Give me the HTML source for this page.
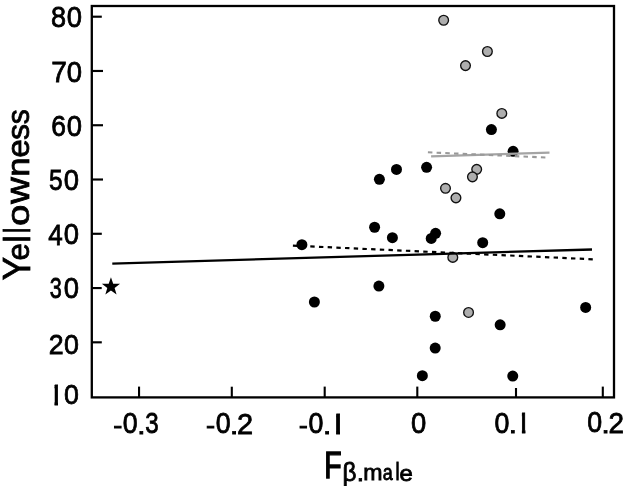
<!DOCTYPE html>
<html><head><meta charset="utf-8"><style>
html,body{margin:0;padding:0;background:#fff;}
svg{display:block;will-change:transform;}
svg text{font-family:"Liberation Sans",sans-serif;font-kerning:none;fill:#000;stroke:#000;stroke-width:0.8px;}
</style></head><body>
<svg width="633" height="486" viewBox="0 0 633 486">
<defs><clipPath id="c0"><rect x="54.50" y="383.10" width="3.50" height="22.90"/><rect x="64.10" y="383.10" width="14.60" height="22.90"/></clipPath><clipPath id="c1"><rect x="299.20" y="424.50" width="8.45" height="4.60"/><rect x="308.70" y="411.70" width="14.60" height="23.30"/><rect x="324.70" y="429.70" width="4.60" height="5.30"/><rect x="336.10" y="411.70" width="3.90" height="23.30"/></clipPath><clipPath id="c2"><rect x="494.55" y="410.90" width="14.60" height="23.30"/><rect x="510.55" y="428.90" width="4.60" height="5.30"/><rect x="521.90" y="410.90" width="3.50" height="23.30"/></clipPath></defs>
<rect x="91.8" y="6.0" width="522.20" height="391.40" fill="none" stroke="#000" stroke-width="2.3"/>
<line x1="91.8" y1="16.70" x2="101.8" y2="16.70" stroke="#000" stroke-width="2.15"/>
<line x1="91.8" y1="70.97" x2="103.0" y2="70.97" stroke="#000" stroke-width="2.15"/>
<line x1="91.8" y1="125.24" x2="103.0" y2="125.24" stroke="#000" stroke-width="2.15"/>
<line x1="91.8" y1="179.51" x2="103.0" y2="179.51" stroke="#000" stroke-width="2.15"/>
<line x1="91.8" y1="233.78" x2="101.8" y2="233.78" stroke="#000" stroke-width="2.15"/>
<line x1="91.8" y1="288.05" x2="101.7" y2="288.05" stroke="#000" stroke-width="2.15"/>
<line x1="91.8" y1="342.32" x2="101.8" y2="342.32" stroke="#000" stroke-width="2.15"/>
<line x1="139.05" y1="397.4" x2="139.05" y2="386.6" stroke="#000" stroke-width="2.1"/>
<line x1="231.80" y1="397.4" x2="231.80" y2="386.7" stroke="#000" stroke-width="2.1"/>
<line x1="324.70" y1="397.4" x2="324.70" y2="386.6" stroke="#000" stroke-width="2.1"/>
<line x1="417.30" y1="397.4" x2="417.30" y2="386.6" stroke="#000" stroke-width="2.1"/>
<line x1="516.00" y1="397.4" x2="516.00" y2="388.0" stroke="#000" stroke-width="2.1"/>
<line x1="602.80" y1="397.4" x2="602.80" y2="386.6" stroke="#000" stroke-width="2.1"/>
<circle cx="301.9" cy="244.65" r="5.5" fill="#000"/>
<circle cx="314.4" cy="302.0" r="5.5" fill="#000"/>
<circle cx="374.6" cy="227.25" r="5.5" fill="#000"/>
<circle cx="379.4" cy="179.3" r="5.5" fill="#000"/>
<circle cx="378.9" cy="286.05" r="5.5" fill="#000"/>
<circle cx="392.4" cy="237.7" r="5.5" fill="#000"/>
<circle cx="396.5" cy="169.45" r="5.5" fill="#000"/>
<circle cx="426.6" cy="167.3" r="5.5" fill="#000"/>
<circle cx="431.25" cy="238.4" r="5.5" fill="#000"/>
<circle cx="435.6" cy="233.3" r="5.5" fill="#000"/>
<circle cx="435.25" cy="316.25" r="5.5" fill="#000"/>
<circle cx="435.2" cy="348.1" r="5.5" fill="#000"/>
<circle cx="422.35" cy="375.65" r="5.5" fill="#000"/>
<circle cx="482.7" cy="242.7" r="5.5" fill="#000"/>
<circle cx="491.4" cy="129.6" r="5.5" fill="#000"/>
<circle cx="499.8" cy="213.8" r="5.5" fill="#000"/>
<circle cx="500.15" cy="324.85" r="5.5" fill="#000"/>
<circle cx="512.75" cy="376.05" r="5.5" fill="#000"/>
<circle cx="513.1" cy="151.3" r="5.5" fill="#000"/>
<circle cx="585.65" cy="307.4" r="5.5" fill="#000"/>
<circle cx="443.65" cy="20.25" r="4.85" fill="#aeaeae" stroke="#111" stroke-width="1.35"/>
<circle cx="487.4" cy="51.5" r="4.85" fill="#aeaeae" stroke="#111" stroke-width="1.35"/>
<circle cx="465.5" cy="65.6" r="4.85" fill="#aeaeae" stroke="#111" stroke-width="1.35"/>
<circle cx="501.8" cy="113.4" r="4.85" fill="#aeaeae" stroke="#111" stroke-width="1.35"/>
<circle cx="476.7" cy="169.35" r="4.85" fill="#aeaeae" stroke="#111" stroke-width="1.35"/>
<circle cx="472.45" cy="176.85" r="4.85" fill="#aeaeae" stroke="#111" stroke-width="1.35"/>
<circle cx="445.5" cy="188.3" r="4.85" fill="#aeaeae" stroke="#111" stroke-width="1.35"/>
<circle cx="455.95" cy="197.85" r="4.85" fill="#aeaeae" stroke="#111" stroke-width="1.35"/>
<circle cx="452.8" cy="257.4" r="4.85" fill="#aeaeae" stroke="#111" stroke-width="1.35"/>
<circle cx="468.55" cy="312.45" r="4.85" fill="#aeaeae" stroke="#111" stroke-width="1.35"/>
<line x1="112.3" y1="263.6" x2="592.0" y2="249.5" stroke="#000" stroke-width="2.3"/>
<line x1="292.9" y1="245.6" x2="592.8" y2="259.3" stroke="#000" stroke-width="2.2" stroke-dasharray="4.4 4.3"/>
<line x1="431.1" y1="156.3" x2="549.5" y2="152.6" stroke="#a4a4a4" stroke-width="2.3"/>
<line x1="427.9" y1="152.3" x2="545.9" y2="157.5" stroke="#999999" stroke-width="2.1" stroke-dasharray="4.5 4.2"/>
<polygon points="110.95,277.20 113.21,283.64 120.03,283.80 114.61,287.94 116.56,294.48 110.95,290.60 105.34,294.48 107.29,287.94 101.87,283.80 108.69,283.64" fill="#000"/>
<text><tspan x="51.02" y="27.42" font-size="28.81" textLength="15.05" lengthAdjust="spacingAndGlyphs">8</tspan><tspan x="66.73" y="27.42" font-size="28.81" textLength="15.24" lengthAdjust="spacingAndGlyphs">0</tspan></text>
<text><tspan x="51.26" y="81.90" font-size="29.80" textLength="15.60" lengthAdjust="spacingAndGlyphs">7</tspan><tspan x="66.73" y="81.62" font-size="28.95" textLength="15.24" lengthAdjust="spacingAndGlyphs">0</tspan></text>
<text><tspan x="51.16" y="135.62" font-size="28.67" textLength="14.70" lengthAdjust="spacingAndGlyphs">6</tspan><tspan x="66.73" y="135.62" font-size="28.67" textLength="15.24" lengthAdjust="spacingAndGlyphs">0</tspan></text>
<text><tspan x="49.12" y="190.32" font-size="29.09" textLength="13.61" lengthAdjust="spacingAndGlyphs">5</tspan><tspan x="63.63" y="190.32" font-size="28.67" textLength="15.24" lengthAdjust="spacingAndGlyphs">0</tspan></text>
<text><tspan x="48.30" y="244.60" font-size="29.51" textLength="14.46" lengthAdjust="spacingAndGlyphs">4</tspan><tspan x="63.63" y="244.32" font-size="28.67" textLength="15.24" lengthAdjust="spacingAndGlyphs">0</tspan></text>
<text><tspan x="49.63" y="298.32" font-size="28.81" textLength="12.02" lengthAdjust="spacingAndGlyphs">3</tspan><tspan x="63.63" y="298.32" font-size="28.81" textLength="15.24" lengthAdjust="spacingAndGlyphs">0</tspan></text>
<text><tspan x="48.75" y="354.40" font-size="28.50" textLength="14.89" lengthAdjust="spacingAndGlyphs">2</tspan><tspan x="63.95" y="354.13" font-size="28.11" textLength="14.89" lengthAdjust="spacingAndGlyphs">0</tspan></text>
<text clip-path="url(#c0)"><tspan x="47.22" y="404.60" font-size="29.22" textLength="16.99" lengthAdjust="spacingAndGlyphs">1</tspan><tspan x="63.95" y="404.32" font-size="28.39" textLength="14.89" lengthAdjust="spacingAndGlyphs">0</tspan></text>
<text><tspan x="113.19" y="432.92" font-size="23.04" textLength="9.07" lengthAdjust="spacingAndGlyphs">-</tspan><tspan x="122.85" y="433.32" font-size="28.95" textLength="14.89" lengthAdjust="spacingAndGlyphs">0</tspan><tspan x="137.21" y="433.60" font-size="23.38" textLength="8.17" lengthAdjust="spacingAndGlyphs">.</tspan><tspan x="145.23" y="433.32" font-size="28.95" textLength="13.43" lengthAdjust="spacingAndGlyphs">3</tspan></text>
<text><tspan x="205.99" y="432.92" font-size="23.04" textLength="9.07" lengthAdjust="spacingAndGlyphs">-</tspan><tspan x="215.65" y="433.32" font-size="28.95" textLength="14.89" lengthAdjust="spacingAndGlyphs">0</tspan><tspan x="230.01" y="433.60" font-size="23.38" textLength="8.17" lengthAdjust="spacingAndGlyphs">.</tspan><tspan x="236.94" y="433.60" font-size="29.36" textLength="16.11" lengthAdjust="spacingAndGlyphs">2</tspan></text>
<text clip-path="url(#c1)"><tspan x="298.89" y="432.92" font-size="23.04" textLength="9.07" lengthAdjust="spacingAndGlyphs">-</tspan><tspan x="308.55" y="433.32" font-size="28.95" textLength="14.89" lengthAdjust="spacingAndGlyphs">0</tspan><tspan x="322.91" y="433.60" font-size="23.38" textLength="8.17" lengthAdjust="spacingAndGlyphs">.</tspan><tspan x="327.68" y="433.60" font-size="29.80" textLength="19.51" lengthAdjust="spacingAndGlyphs">1</tspan></text>
<text><tspan x="411.03" y="433.02" font-size="28.81" textLength="15.24" lengthAdjust="spacingAndGlyphs">0</tspan></text>
<text clip-path="url(#c2)"><tspan x="494.40" y="432.52" font-size="28.95" textLength="14.89" lengthAdjust="spacingAndGlyphs">0</tspan><tspan x="508.76" y="432.80" font-size="23.38" textLength="8.17" lengthAdjust="spacingAndGlyphs">.</tspan><tspan x="514.62" y="432.80" font-size="29.80" textLength="16.99" lengthAdjust="spacingAndGlyphs">1</tspan></text>
<text><tspan x="587.15" y="432.32" font-size="28.95" textLength="14.89" lengthAdjust="spacingAndGlyphs">0</tspan><tspan x="601.51" y="432.60" font-size="23.38" textLength="8.17" lengthAdjust="spacingAndGlyphs">.</tspan><tspan x="608.50" y="432.60" font-size="29.36" textLength="15.50" lengthAdjust="spacingAndGlyphs">2</tspan></text>
<text transform="matrix(0 -1 1 0 0 300.0)"><tspan x="19.83" y="29.50" font-size="38.52" textLength="23.44" lengthAdjust="spacingAndGlyphs">Y</tspan><tspan x="39.38" y="29.19" font-size="32.13" textLength="17.30" lengthAdjust="spacingAndGlyphs">e</tspan><tspan x="57.55" y="29.50" font-size="36.57" textLength="7.08" lengthAdjust="spacingAndGlyphs">l</tspan><tspan x="66.84" y="29.50" font-size="36.57" textLength="5.81" lengthAdjust="spacingAndGlyphs">l</tspan><tspan x="73.98" y="29.19" font-size="32.13" textLength="21.44" lengthAdjust="spacingAndGlyphs">o</tspan><tspan x="96.25" y="29.30" font-size="32.75" textLength="26.46" lengthAdjust="spacingAndGlyphs">w</tspan><tspan x="123.29" y="29.30" font-size="32.15" textLength="19.38" lengthAdjust="spacingAndGlyphs">n</tspan><tspan x="142.29" y="29.19" font-size="32.13" textLength="18.49" lengthAdjust="spacingAndGlyphs">e</tspan><tspan x="160.11" y="29.19" font-size="32.21" textLength="16.05" lengthAdjust="spacingAndGlyphs">s</tspan><tspan x="175.76" y="29.19" font-size="32.21" textLength="15.02" lengthAdjust="spacingAndGlyphs">s</tspan></text>
<text><tspan x="324.22" y="477.75" font-size="36.92" textLength="17.37" lengthAdjust="spacingAndGlyphs" stroke-width="1.3">F</tspan><tspan x="342.62" y="481.03" font-size="24.89" textLength="13.94" lengthAdjust="spacingAndGlyphs">β</tspan><tspan x="356.70" y="480.70" font-size="24.31" textLength="7.29" lengthAdjust="spacingAndGlyphs">.</tspan><tspan x="363.16" y="480.40" font-size="21.84" textLength="19.26" lengthAdjust="spacingAndGlyphs">m</tspan><tspan x="382.64" y="480.39" font-size="21.81" textLength="9.96" lengthAdjust="spacingAndGlyphs">a</tspan><tspan x="395.47" y="480.40" font-size="23.18" textLength="4.04" lengthAdjust="spacingAndGlyphs">l</tspan><tspan x="399.49" y="480.68" font-size="22.36" textLength="13.27" lengthAdjust="spacingAndGlyphs">e</tspan></text>
</svg>
</body></html>
